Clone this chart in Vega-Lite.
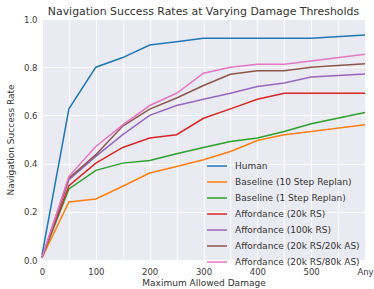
{
  "$schema": "https://vega.github.io/schema/vega-lite/v6.json",
  "autosize": "none",
  "width": 323,
  "height": 241,
  "padding": {"left": 42, "top": 19, "right": 9, "bottom": 29},
  "background": "white",
  "title": {"text": "Navigation Success Rates at Varying Damage Thresholds", "fontSize": 10.9, "fontWeight": "normal", "font": "DejaVu Sans", "color": "#333333", "anchor": "middle", "offset": -2},
  "config": {
    "view": {"fill": "#EAEAF2", "stroke": null},
    "axis": {"domain": false, "ticks": false, "gridColor": "#ffffff", "gridWidth": 1, "gridOpacity": 1, "labelFont": "DejaVu Sans", "labelFontSize": 8.5, "labelColor": "#3a3a3a", "titleFont": "DejaVu Sans", "titleFontSize": 9, "titleFontWeight": "normal", "titleColor": "#333333"},
    "legend": {"labelFont": "DejaVu Sans", "labelFontSize": 9, "labelColor": "#333333"}
  },
  "data": {"values": [
    {"s": "Human", "x": 0, "y": 0.02}, {"s": "Human", "x": 50, "y": 0.627}, {"s": "Human", "x": 100, "y": 0.8}, {"s": "Human", "x": 150, "y": 0.84}, {"s": "Human", "x": 200, "y": 0.892}, {"s": "Human", "x": 250, "y": 0.906}, {"s": "Human", "x": 300, "y": 0.92}, {"s": "Human", "x": 350, "y": 0.92}, {"s": "Human", "x": 400, "y": 0.92}, {"s": "Human", "x": 450, "y": 0.92}, {"s": "Human", "x": 500, "y": 0.92}, {"s": "Human", "x": 600, "y": 0.934},
    {"s": "Baseline (10 Step Replan)", "x": 0, "y": 0.01}, {"s": "Baseline (10 Step Replan)", "x": 50, "y": 0.241}, {"s": "Baseline (10 Step Replan)", "x": 100, "y": 0.253}, {"s": "Baseline (10 Step Replan)", "x": 150, "y": 0.306}, {"s": "Baseline (10 Step Replan)", "x": 200, "y": 0.361}, {"s": "Baseline (10 Step Replan)", "x": 250, "y": 0.388}, {"s": "Baseline (10 Step Replan)", "x": 300, "y": 0.416}, {"s": "Baseline (10 Step Replan)", "x": 350, "y": 0.45}, {"s": "Baseline (10 Step Replan)", "x": 400, "y": 0.496}, {"s": "Baseline (10 Step Replan)", "x": 450, "y": 0.52}, {"s": "Baseline (10 Step Replan)", "x": 500, "y": 0.533}, {"s": "Baseline (10 Step Replan)", "x": 600, "y": 0.561},
    {"s": "Baseline (1 Step Replan)", "x": 0, "y": 0.01}, {"s": "Baseline (1 Step Replan)", "x": 50, "y": 0.295}, {"s": "Baseline (1 Step Replan)", "x": 100, "y": 0.372}, {"s": "Baseline (1 Step Replan)", "x": 150, "y": 0.402}, {"s": "Baseline (1 Step Replan)", "x": 200, "y": 0.413}, {"s": "Baseline (1 Step Replan)", "x": 250, "y": 0.441}, {"s": "Baseline (1 Step Replan)", "x": 300, "y": 0.467}, {"s": "Baseline (1 Step Replan)", "x": 350, "y": 0.492}, {"s": "Baseline (1 Step Replan)", "x": 400, "y": 0.506}, {"s": "Baseline (1 Step Replan)", "x": 450, "y": 0.533}, {"s": "Baseline (1 Step Replan)", "x": 500, "y": 0.565}, {"s": "Baseline (1 Step Replan)", "x": 600, "y": 0.612},
    {"s": "Affordance (20k RS)", "x": 0, "y": 0.01}, {"s": "Affordance (20k RS)", "x": 50, "y": 0.308}, {"s": "Affordance (20k RS)", "x": 100, "y": 0.402}, {"s": "Affordance (20k RS)", "x": 150, "y": 0.467}, {"s": "Affordance (20k RS)", "x": 200, "y": 0.506}, {"s": "Affordance (20k RS)", "x": 250, "y": 0.52}, {"s": "Affordance (20k RS)", "x": 300, "y": 0.588}, {"s": "Affordance (20k RS)", "x": 350, "y": 0.627}, {"s": "Affordance (20k RS)", "x": 400, "y": 0.667}, {"s": "Affordance (20k RS)", "x": 450, "y": 0.692}, {"s": "Affordance (20k RS)", "x": 500, "y": 0.692}, {"s": "Affordance (20k RS)", "x": 600, "y": 0.692},
    {"s": "Affordance (100k RS)", "x": 0, "y": 0.01}, {"s": "Affordance (100k RS)", "x": 50, "y": 0.333}, {"s": "Affordance (100k RS)", "x": 100, "y": 0.43}, {"s": "Affordance (100k RS)", "x": 150, "y": 0.52}, {"s": "Affordance (100k RS)", "x": 200, "y": 0.6}, {"s": "Affordance (100k RS)", "x": 250, "y": 0.641}, {"s": "Affordance (100k RS)", "x": 300, "y": 0.667}, {"s": "Affordance (100k RS)", "x": 350, "y": 0.692}, {"s": "Affordance (100k RS)", "x": 400, "y": 0.72}, {"s": "Affordance (100k RS)", "x": 450, "y": 0.734}, {"s": "Affordance (100k RS)", "x": 500, "y": 0.759}, {"s": "Affordance (100k RS)", "x": 600, "y": 0.772},
    {"s": "Affordance (20k RS/20k AS)", "x": 0, "y": 0.01}, {"s": "Affordance (20k RS/20k AS)", "x": 50, "y": 0.34}, {"s": "Affordance (20k RS/20k AS)", "x": 100, "y": 0.437}, {"s": "Affordance (20k RS/20k AS)", "x": 150, "y": 0.556}, {"s": "Affordance (20k RS/20k AS)", "x": 200, "y": 0.626}, {"s": "Affordance (20k RS/20k AS)", "x": 250, "y": 0.672}, {"s": "Affordance (20k RS/20k AS)", "x": 300, "y": 0.724}, {"s": "Affordance (20k RS/20k AS)", "x": 350, "y": 0.771}, {"s": "Affordance (20k RS/20k AS)", "x": 400, "y": 0.785}, {"s": "Affordance (20k RS/20k AS)", "x": 450, "y": 0.785}, {"s": "Affordance (20k RS/20k AS)", "x": 500, "y": 0.8}, {"s": "Affordance (20k RS/20k AS)", "x": 600, "y": 0.814},
    {"s": "Affordance (20k RS/80k AS)", "x": 0, "y": 0.01}, {"s": "Affordance (20k RS/80k AS)", "x": 50, "y": 0.347}, {"s": "Affordance (20k RS/80k AS)", "x": 100, "y": 0.471}, {"s": "Affordance (20k RS/80k AS)", "x": 150, "y": 0.561}, {"s": "Affordance (20k RS/80k AS)", "x": 200, "y": 0.641}, {"s": "Affordance (20k RS/80k AS)", "x": 250, "y": 0.692}, {"s": "Affordance (20k RS/80k AS)", "x": 300, "y": 0.775}, {"s": "Affordance (20k RS/80k AS)", "x": 350, "y": 0.8}, {"s": "Affordance (20k RS/80k AS)", "x": 400, "y": 0.812}, {"s": "Affordance (20k RS/80k AS)", "x": 450, "y": 0.812}, {"s": "Affordance (20k RS/80k AS)", "x": 500, "y": 0.826}, {"s": "Affordance (20k RS/80k AS)", "x": 600, "y": 0.854}
  ]},
  "mark": {"type": "line", "strokeWidth": 1.5},
  "encoding": {
    "x": {"field": "x", "type": "quantitative", "title": "Maximum Allowed Damage",
      "scale": {"domain": [0, 600], "nice": false},
      "axis": {"values": [0, 50, 100, 150, 200, 250, 300, 350, 400, 450, 500, 550, 600], "labelExpr": "datum.value == 600 ? 'Any' : (datum.value % 100 == 0 ? datum.label : '')", "labelFlush": false, "labelPadding": 7, "titlePadding": 3}},
    "y": {"field": "y", "type": "quantitative", "title": "Navigation Success Rate",
      "scale": {"domain": [0, 1], "nice": false},
      "axis": {"values": [0, 0.2, 0.4, 0.6, 0.8, 1.0], "format": ".1f", "labelPadding": 5, "titlePadding": 8}},
    "color": {"field": "s", "type": "nominal", "sort": null,
      "scale": {"domain": ["Human", "Baseline (10 Step Replan)", "Baseline (1 Step Replan)", "Affordance (20k RS)", "Affordance (100k RS)", "Affordance (20k RS/20k AS)", "Affordance (20k RS/80k AS)"],
        "range": ["#1f77b4", "#ff7f0e", "#2ca02c", "#d62728", "#9467bd", "#8c564b", "#e377c2"]},
      "legend": {"title": null, "orient": "none", "legendX": 164, "legendY": 136, "symbolType": "stroke", "symbolSize": 400, "symbolStrokeWidth": 1.5, "rowPadding": -8.3, "labelOffset": 7}}
  }
}
